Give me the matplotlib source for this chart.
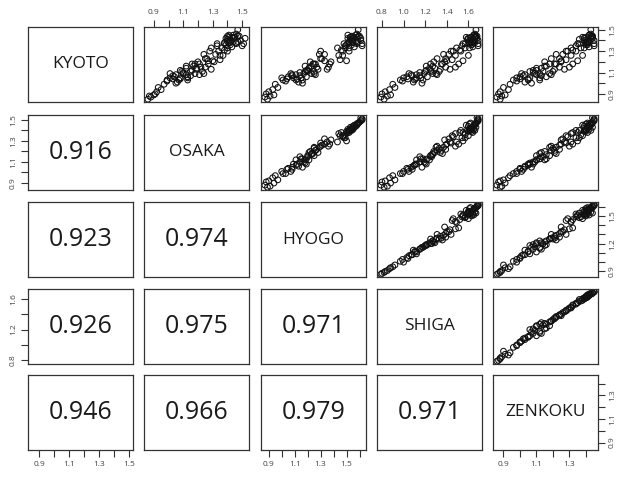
import matplotlib
matplotlib.use("Agg")
import matplotlib.pyplot as plt
import numpy as np

plt.rcParams['font.family'] = ['Open Sans', 'DejaVu Sans']

names = ["KYOTO", "OSAKA", "HYOGO", "SHIGA", "ZENKOKU"]

kyoto = [0.87, 0.85, 0.90, 0.88, 0.92, 0.89, 0.94, 0.96, 0.99, 1.03,
         1.05, 1.06, 1.02, 1.08, 1.04, 1.03, 1.09, 1.05, 1.01, 1.07,
         1.10, 1.04, 1.00, 1.08, 1.11, 1.05, 1.12, 1.07, 1.14, 1.09,
         1.03, 1.12, 1.16, 1.09, 1.06, 1.14, 1.18, 1.11, 1.08, 1.16,
         1.20, 1.13, 1.09, 1.18, 1.23, 1.15, 1.11, 1.21, 1.27, 1.18,
         1.13, 1.23, 1.30, 1.20, 1.15, 1.27, 1.33, 1.22, 1.18, 1.30,
         1.35, 1.26, 1.21, 1.31, 1.37, 1.30, 1.26, 1.37, 1.40, 1.33,
         1.41, 1.36, 1.43, 1.38, 1.42, 1.45, 1.37, 1.44, 1.39, 1.43,
         1.38, 1.46, 1.40, 1.36, 1.44, 1.39, 1.45, 1.35, 1.43, 1.38,
         1.42, 1.34, 1.44, 1.39, 1.37, 1.50, 1.43, 1.38, 1.33, 1.42]

osaka = [0.88, 0.86, 0.91, 0.87, 0.92, 0.90, 0.95, 0.93, 0.97, 0.99,
         1.01, 1.04, 0.99, 1.05, 1.03, 1.07, 1.01, 1.08, 1.06, 1.03,
         1.10, 1.08, 1.05, 1.12, 1.09, 1.13, 1.08, 1.15, 1.12, 1.10,
         1.13, 1.16, 1.12, 1.18, 1.13, 1.19, 1.16, 1.15, 1.21, 1.17,
         1.20, 1.19, 1.24, 1.18, 1.25, 1.22, 1.23, 1.27, 1.24, 1.21,
         1.29, 1.26, 1.28, 1.31, 1.25, 1.32, 1.29, 1.35, 1.27, 1.34,
         1.33, 1.37, 1.30, 1.38, 1.33, 1.40, 1.35, 1.38, 1.42, 1.36,
         1.40, 1.39, 1.45, 1.38, 1.44, 1.41, 1.46, 1.40, 1.47, 1.43,
         1.41, 1.46, 1.49, 1.42, 1.47, 1.40, 1.44, 1.50, 1.45, 1.42,
         1.39, 1.43, 1.48, 1.44, 1.51, 1.47, 1.41, 1.46, 1.40, 1.52]

hyogo = [0.87, 0.89, 0.88, 0.91, 0.90, 0.94, 0.93, 0.97, 0.95, 1.01,
         1.00, 1.05, 1.03, 1.08, 1.04, 1.11, 1.07, 1.09, 1.13, 1.08,
         1.14, 1.12, 1.16, 1.11, 1.18, 1.15, 1.19, 1.14, 1.21, 1.17,
         1.16, 1.20, 1.18, 1.23, 1.19, 1.21, 1.25, 1.20, 1.26, 1.23,
         1.22, 1.28, 1.25, 1.24, 1.30, 1.27, 1.25, 1.33, 1.29, 1.26,
         1.35, 1.31, 1.30, 1.38, 1.36, 1.33, 1.43, 1.45, 1.37, 1.47,
         1.49, 1.44, 1.50, 1.46, 1.48, 1.52, 1.47, 1.51, 1.54, 1.49,
         1.53, 1.50, 1.56, 1.52, 1.55, 1.51, 1.58, 1.54, 1.59, 1.53,
         1.55, 1.58, 1.61, 1.54, 1.59, 1.52, 1.57, 1.62, 1.58, 1.55,
         1.51, 1.56, 1.60, 1.57, 1.62, 1.59, 1.53, 1.58, 1.52, 1.61]

shiga = [0.79, 0.82, 0.80, 0.85, 0.83, 0.88, 0.87, 0.92, 0.90, 0.97,
         1.00, 1.03, 0.99, 1.07, 1.04, 1.10, 1.05, 1.12, 1.09, 1.08,
         1.15, 1.11, 1.17, 1.12, 1.20, 1.16, 1.21, 1.15, 1.24, 1.19,
         1.18, 1.25, 1.21, 1.27, 1.22, 1.29, 1.25, 1.26, 1.31, 1.27,
         1.28, 1.34, 1.30, 1.36, 1.31, 1.39, 1.33, 1.40, 1.37, 1.35,
         1.43, 1.39, 1.44, 1.38, 1.48, 1.42, 1.49, 1.45, 1.51, 1.46,
         1.54, 1.48, 1.55, 1.52, 1.57, 1.53, 1.60, 1.55, 1.61, 1.57,
         1.59, 1.63, 1.58, 1.64, 1.60, 1.65, 1.61, 1.66, 1.62, 1.67,
         1.61, 1.66, 1.69, 1.63, 1.67, 1.62, 1.65, 1.69, 1.66, 1.63,
         1.60, 1.64, 1.68, 1.65, 1.69, 1.67, 1.62, 1.66, 1.61, 1.68]

zenkoku = [0.86, 0.88, 0.87, 0.89, 0.88, 0.91, 0.93, 0.90, 0.94, 0.96,
           0.98, 1.00, 0.98, 1.03, 1.00, 1.05, 1.01, 1.06, 1.03, 1.02,
           1.08, 1.05, 1.07, 1.10, 1.06, 1.12, 1.08, 1.13, 1.10, 1.09,
           1.12, 1.10, 1.15, 1.12, 1.16, 1.13, 1.18, 1.14, 1.19, 1.16,
           1.15, 1.21, 1.18, 1.22, 1.19, 1.24, 1.20, 1.25, 1.22, 1.21,
           1.27, 1.24, 1.28, 1.25, 1.30, 1.26, 1.31, 1.28, 1.32, 1.29,
           1.34, 1.31, 1.35, 1.32, 1.36, 1.34, 1.38, 1.35, 1.39, 1.37,
           1.36, 1.40, 1.38, 1.41, 1.39, 1.42, 1.40, 1.43, 1.41, 1.44,
           1.40, 1.43, 1.45, 1.41, 1.44, 1.40, 1.42, 1.45, 1.43, 1.41,
           1.39, 1.42, 1.44, 1.41, 1.45, 1.43, 1.40, 1.42, 1.39, 1.44]

# correlation labels shown in the lower panels (row, col)
corr_labels = {(1, 0): "0.916", (2, 0): "0.923", (3, 0): "0.926", (4, 0): "0.946",
               (2, 1): "0.974", (3, 1): "0.975", (4, 1): "0.966",
               (3, 2): "0.971", (4, 2): "0.979",
               (4, 3): "0.971"}

# tick positions and which ones get a label, per variable
ticks_x = [np.arange(0.9, 1.51, 0.1), np.arange(0.9, 1.51, 0.1), np.arange(0.9, 1.61, 0.1),
           np.arange(0.8, 1.61, 0.2), np.arange(0.9, 1.41, 0.1)]
labels_x = [[0.9, 1.1, 1.3, 1.5], [0.9, 1.1, 1.3, 1.5], [0.9, 1.1, 1.3, 1.5],
            [0.8, 1.0, 1.2, 1.4, 1.6], [0.9, 1.1, 1.3]]
ticks_y = [np.arange(0.9, 1.51, 0.1), np.arange(0.9, 1.51, 0.1), np.arange(0.9, 1.61, 0.1),
           np.arange(0.8, 1.61, 0.2), np.arange(0.9, 1.41, 0.1)]
labels_y = [[0.9, 1.1, 1.3, 1.5], [0.9, 1.1, 1.3, 1.5], [0.9, 1.2, 1.5],
            [0.8, 1.2, 1.6], [0.9, 1.1, 1.3]]

data = [np.array(kyoto), np.array(osaka), np.array(hyogo), np.array(shiga), np.array(zenkoku)]

W, H = 617, 480
fig = plt.figure(figsize=(W / 100, H / 100), dpi=100)

lefts = [28, 144, 261, 377, 493]
tops = [27, 115, 202, 289, 375]
pw, ph = 105, 75
edge = '#333333'
tcol = '#444444'


def fmt_labels(ticks, shown):
    out = []
    for t in ticks:
        if any(abs(t - s) < 1e-6 for s in shown):
            out.append("%.1f" % t)
        else:
            out.append("")
    return out


def lims(v):
    lo, hi = v.min(), v.max()
    pad = (hi - lo) * 0.04
    return lo - pad, hi + pad


n = len(names)
for i in range(n):
    for j in range(n):
        ax = fig.add_axes([lefts[j] / W, 1 - (tops[i] + ph) / H, pw / W, ph / H])
        for s in ax.spines.values():
            s.set_color(edge)
            s.set_linewidth(0.9)
        ax.set_xlim(*lims(data[j]))
        ax.set_ylim(*lims(data[i]))
        ax.set_xticks([])
        ax.set_yticks([])
        if i == j:
            ax.text(0.5, 0.5, names[i], transform=ax.transAxes, ha='center', va='center',
                    fontsize=12.5, color='#1a1a1a')
        elif i < j:
            ax.scatter(data[j], data[i], s=17, facecolors='none', edgecolors='#111111',
                       linewidths=0.75)
        else:
            ax.text(0.5, 0.5, corr_labels[(i, j)], transform=ax.transAxes, ha='center',
                    va='center', fontsize=18, color='#1a1a1a')

        # outer axes like R pairs()
        tick_kw = dict(length=5, width=0.8, color=edge, labelsize=6, labelcolor=tcol, pad=3)
        if i == 0 and j % 2 == 1:
            ax.xaxis.tick_top()
            ax.set_xticks(ticks_x[j])
            ax.set_xticklabels(fmt_labels(ticks_x[j], labels_x[j]))
            ax.tick_params(axis='x', **tick_kw)
        if i == n - 1 and j % 2 == 0:
            ax.set_xticks(ticks_x[j])
            ax.set_xticklabels(fmt_labels(ticks_x[j], labels_x[j]))
            ax.tick_params(axis='x', **tick_kw)
        if j == 0 and i % 2 == 1:
            ax.set_yticks(ticks_y[i])
            ax.set_yticklabels(fmt_labels(ticks_y[i], labels_y[i]), rotation=90, va='center')
            ax.tick_params(axis='y', **tick_kw)
        if j == n - 1 and i % 2 == 0:
            ax.yaxis.tick_right()
            ax.set_yticks(ticks_y[i])
            ax.set_yticklabels(fmt_labels(ticks_y[i], labels_y[i]), rotation=90, va='center')
            ax.tick_params(axis='y', **tick_kw)

fig.savefig("out.png", dpi=100, facecolor='white')
